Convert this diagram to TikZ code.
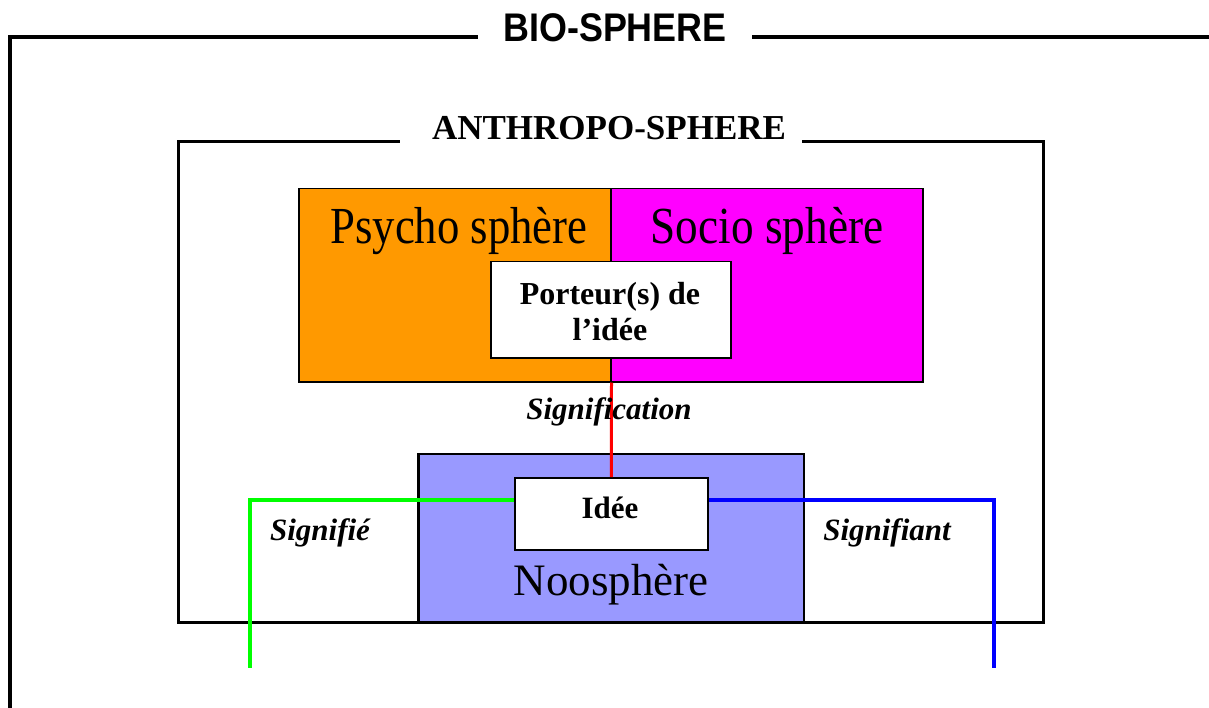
\documentclass[tikz,border=0pt]{standalone}
\usepackage{graphicx}
\usepackage{fontspec}
\setmainfont{Liberation Serif}
\newfontfamily\arialfont{Liberation Sans}
\begin{document}
\begin{tikzpicture}[x=1pt,y=-1pt,
  box/.style={draw=black,line width=1.5pt,inner sep=0pt,anchor=north west},
  frameline/.style={line width=3pt,line cap=rect},
  lab/.style={inner sep=0pt,anchor=base},
  link/.style={line width=4pt}]
\useasboundingbox (0,0) rectangle (1209,708);
% Bio-sphere frame
\node[lab,font=\arialfont\bfseries\fontsize{37}{40}\selectfont] (bio) at (615,42) {\scalebox{0.97}[1.08]{BIO-SPHERE}};
\coordinate (bioL) at (10,708);
\coordinate (bioTL) at (10,37);
\coordinate (bioA) at (478,37);
\coordinate (bioB) at (752,37);
\coordinate (bioR) at (1209,37);
\draw[line width=4pt] (bioL) -- (bioTL) -- (bioA);
\draw[line width=4pt] (bioB) -- (bioR);
% Anthropo-sphere frame
\node[lab,font=\bfseries\fontsize{35}{38}\selectfont] (anthro) at (609,140) {ANTHROPO-SPHERE};
\coordinate (aTL) at (178,142);
\coordinate (aA) at (398,142);
\coordinate (aB) at (803,142);
\coordinate (aTR) at (1043,142);
\coordinate (aBL) at (178,622);
\coordinate (aBR) at (1043,622);
% Boxes
\node[box,fill={rgb,255:red,255;green,153;blue,0},minimum width=312pt,minimum height=193pt] (psy) at (298,188) {};
\node[box,fill={rgb,255:red,255;green,0;blue,255},minimum width=312pt,minimum height=193pt] (soc) at (610,188) {};
\node[lab,font=\fontsize{52}{56}\selectfont] (psyt) at (459,244) {\scalebox{0.86}[1]{Psycho sphère}};
\node[lab,font=\fontsize{52}{56}\selectfont] (soct) at (767,244) {\scalebox{0.87}[1]{Socio sphère}};
\node[box,minimum width=385pt,minimum height=169pt,fill={rgb,255:red,153;green,153;blue,255}] (noo) at (418,453) {};
\node[lab,font=\fontsize{45}{50}\selectfont] (noot) at (611,595) {Noosphère};
\draw[frameline] (aBL) -- (aTL) -- (aA);
\draw[frameline] (aB) -- (aTR) -- (aBR);
\draw[frameline] (aBL) -- (aBR);
\draw[line width=1.5pt] (noo.north west) -- (noo.south west);
\draw[line width=1.5pt] (noo.north east) -- (noo.south east);
\node[box,fill=white,minimum width=240pt,minimum height=96pt] (port) at (490,261) {};
\node[inner sep=0pt,font=\bfseries\fontsize{32}{36}\selectfont,align=center] (portt) at (610,312) {Porteur(s) de\\l’idée};
\node[box,fill=white,minimum width=193pt,minimum height=72pt] (idee) at (514,477) {};
\node[lab,font=\bfseries\fontsize{31}{34}\selectfont] (ideet) at (610,518) {Idée};
% Links
\draw[red,line width=3pt] (psy.south east) -- (idee.north);
\node[lab,font=\bfseries\itshape\fontsize{31}{34}\selectfont] (signif) at (609,419) {Signification};
\coordinate (gC) at (250,500);
\coordinate (gE) at (250,668);
\coordinate (bC) at (994,500);
\coordinate (bE) at (994,668);
\draw[link,color={rgb,255:red,0;green,255;blue,0}] (idee.west |- gC) -- (gC) -- (gE);
\draw[link,color={rgb,255:red,0;green,0;blue,255}] (idee.east |- bC) -- (bC) -- (bE);
\node[lab,font=\bfseries\itshape\fontsize{31}{34}\selectfont] (sig1) at (320,540) {Signifié};
\node[lab,font=\bfseries\itshape\fontsize{31}{34}\selectfont] (sig2) at (887,540) {Signifiant};
\end{tikzpicture}
\end{document}
